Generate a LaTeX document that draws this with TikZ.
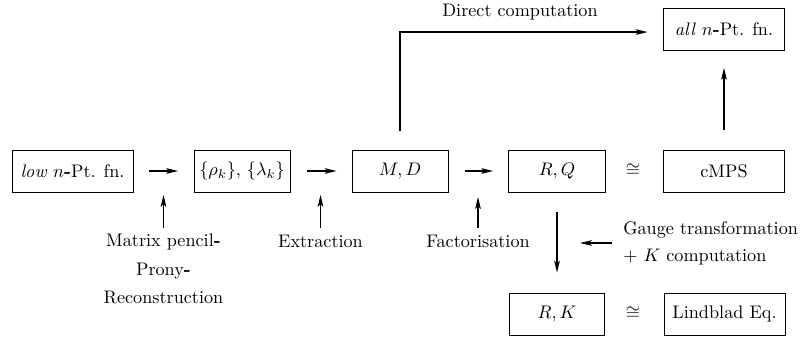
\documentclass[tikz,border=0pt]{standalone}
\usetikzlibrary{arrows.meta}
\begin{document}
\begin{tikzpicture}[x=0.55pt,y=-0.55pt,
  box/.style={draw,line width=0.5pt,minimum height=23.1pt,inner sep=2pt},
  arr/.style={-{Stealth[length=6.5pt,width=3.1pt,inset=1.4pt]},line width=0.6pt},
  lbl/.style={inner sep=3.3pt}]
\useasboundingbox (0,0) rectangle (802,336);
% boxes
\node[box,minimum width=66.5pt] (low) at (72.5,171) {\textit{low} $n$\textbf{-}Pt. fn.};
\node[box,minimum width=52.8pt] (rho) at (242,171) {$\{\rho_k\}$, $\{\lambda_k\}$};
\node[box,minimum width=52.8pt] (md) at (400,171) {$M,D$};
\node[box,minimum width=53.2pt] (rq) at (557,171) {$R,Q$};
\node[box,minimum width=67pt] (cmps) at (724,171) {cMPS};
\node[box,minimum width=67pt] (all) at (724,29.5) {\textit{all} $n$\textbf{-}Pt. fn.};
\node[box,minimum width=52.5pt] (rk) at (557,314) {$R,K$};
\node[box,minimum width=66.5pt] (lind) at (724.5,314) {Lindblad Eq.};
% congruences
\node (c1) at (633,170) {$\cong$};
\node (c2) at (633,313) {$\cong$};
% labels
\node[lbl] (dc) at (520,12.5) {Direct computation};
\node[lbl,align=center] (mp) at (163.5,269.2) {Matrix pencil\textbf{-}\\[3.7pt]Prony\textbf{-}\\[3.7pt]Reconstruction};
\node[lbl] (ex) at (320.5,241) {Extraction};
\node[lbl] (fa) at (478,241) {Factorisation};
\node[inner sep=0pt,align=left,anchor=west] (ga) at (623,243) {Gauge transformation\\[2.85pt]$+$ $K$ computation};
% coordinates
\coordinate (t1) at (163.5,195);
\coordinate (t2) at (320.5,195);
\coordinate (t3) at (478,197);
\coordinate (t4) at (580,243);
% main arrows
\draw[arr,shorten <=8.8pt,shorten >=8.5pt] (low) -- (rho);
\draw[arr,shorten <=9pt,shorten >=8.3pt] (rho) -- (md);
\draw[arr,shorten <=9pt,shorten >=8.3pt] (md) -- (rq);
\draw[arr,shorten <=11pt,shorten >=11pt] (rq) -- (rk);
\draw[arr,shorten <=11pt,shorten >=9.3pt] (cmps) -- (all);
\draw[arr,shorten <=10pt,shorten >=8.3pt] (md.north) |- ([yshift=-1.4pt]all.west);
% label arrows
\draw[arr] (mp) -- (t1);
\draw[arr] (ex) -- (t2);
\draw[arr] (fa) -- (t3);
\draw[arr,shorten <=6pt] (ga.west) -- (t4);
\end{tikzpicture}
\end{document}
